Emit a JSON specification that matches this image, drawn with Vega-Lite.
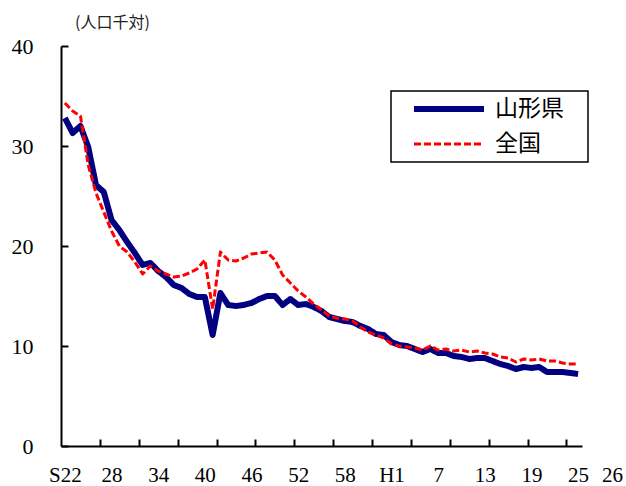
{
  "$schema": "https://vega.github.io/schema/vega-lite/v6.json",
  "width": 521,
  "height": 400,
  "autosize": {"type": "none"},
  "padding": {"left": 61, "top": 46, "right": 44, "bottom": 40},
  "background": "white",
  "config": {
    "view": {"stroke": null},
    "axis": {"grid": false},
    "legend": {"strokeWidth": 1.5}
  },
  "data": {
    "values": [
      {"year":1947,"series":"山形県","value":32.8},{"year":1948,"series":"山形県","value":31.3},{"year":1949,"series":"山形県","value":32.0},{"year":1950,"series":"山形県","value":29.9},{"year":1951,"series":"山形県","value":26.1},{"year":1952,"series":"山形県","value":25.4},{"year":1953,"series":"山形県","value":22.6},{"year":1954,"series":"山形県","value":21.6},{"year":1955,"series":"山形県","value":20.4},{"year":1956,"series":"山形県","value":19.3},
      {"year":1957,"series":"山形県","value":18.1},{"year":1958,"series":"山形県","value":18.3},{"year":1959,"series":"山形県","value":17.5},{"year":1960,"series":"山形県","value":16.9},{"year":1961,"series":"山形県","value":16.1},{"year":1962,"series":"山形県","value":15.8},{"year":1963,"series":"山形県","value":15.2},{"year":1964,"series":"山形県","value":14.9},{"year":1965,"series":"山形県","value":14.9},{"year":1966,"series":"山形県","value":11.1},
      {"year":1967,"series":"山形県","value":15.3},{"year":1968,"series":"山形県","value":14.1},{"year":1969,"series":"山形県","value":14.0},{"year":1970,"series":"山形県","value":14.1},{"year":1971,"series":"山形県","value":14.3},{"year":1972,"series":"山形県","value":14.7},{"year":1973,"series":"山形県","value":15.0},{"year":1974,"series":"山形県","value":15.0},{"year":1975,"series":"山形県","value":14.1},{"year":1976,"series":"山形県","value":14.7},
      {"year":1977,"series":"山形県","value":14.1},{"year":1978,"series":"山形県","value":14.2},{"year":1979,"series":"山形県","value":13.9},{"year":1980,"series":"山形県","value":13.5},{"year":1981,"series":"山形県","value":12.9},{"year":1982,"series":"山形県","value":12.7},{"year":1983,"series":"山形県","value":12.5},{"year":1984,"series":"山形県","value":12.4},{"year":1985,"series":"山形県","value":12.0},{"year":1986,"series":"山形県","value":11.7},
      {"year":1987,"series":"山形県","value":11.2},{"year":1988,"series":"山形県","value":11.1},{"year":1989,"series":"山形県","value":10.4},{"year":1990,"series":"山形県","value":10.1},{"year":1991,"series":"山形県","value":10.0},{"year":1992,"series":"山形県","value":9.7},{"year":1993,"series":"山形県","value":9.4},{"year":1994,"series":"山形県","value":9.7},{"year":1995,"series":"山形県","value":9.3},{"year":1996,"series":"山形県","value":9.3},
      {"year":1997,"series":"山形県","value":9.0},{"year":1998,"series":"山形県","value":8.9},{"year":1999,"series":"山形県","value":8.7},{"year":2000,"series":"山形県","value":8.8},{"year":2001,"series":"山形県","value":8.8},{"year":2002,"series":"山形県","value":8.5},{"year":2003,"series":"山形県","value":8.2},{"year":2004,"series":"山形県","value":8.0},{"year":2005,"series":"山形県","value":7.7},{"year":2006,"series":"山形県","value":7.9},
      {"year":2007,"series":"山形県","value":7.8},{"year":2008,"series":"山形県","value":7.9},{"year":2009,"series":"山形県","value":7.4},{"year":2010,"series":"山形県","value":7.4},{"year":2011,"series":"山形県","value":7.4},{"year":2012,"series":"山形県","value":7.3},{"year":2013,"series":"山形県","value":7.2},
      {"year":1947,"series":"全国","value":34.3},{"year":1948,"series":"全国","value":33.5},{"year":1949,"series":"全国","value":33.0},{"year":1950,"series":"全国","value":28.1},{"year":1951,"series":"全国","value":25.3},{"year":1952,"series":"全国","value":23.4},{"year":1953,"series":"全国","value":21.5},{"year":1954,"series":"全国","value":20.0},{"year":1955,"series":"全国","value":19.4},{"year":1956,"series":"全国","value":18.4},
      {"year":1957,"series":"全国","value":17.2},{"year":1958,"series":"全国","value":18.0},{"year":1959,"series":"全国","value":17.5},{"year":1960,"series":"全国","value":17.2},{"year":1961,"series":"全国","value":16.9},{"year":1962,"series":"全国","value":17.0},{"year":1963,"series":"全国","value":17.3},{"year":1964,"series":"全国","value":17.7},{"year":1965,"series":"全国","value":18.6},{"year":1966,"series":"全国","value":13.7},
      {"year":1967,"series":"全国","value":19.4},{"year":1968,"series":"全国","value":18.6},{"year":1969,"series":"全国","value":18.5},{"year":1970,"series":"全国","value":18.8},{"year":1971,"series":"全国","value":19.2},{"year":1972,"series":"全国","value":19.3},{"year":1973,"series":"全国","value":19.4},{"year":1974,"series":"全国","value":18.6},{"year":1975,"series":"全国","value":17.1},{"year":1976,"series":"全国","value":16.3},
      {"year":1977,"series":"全国","value":15.5},{"year":1978,"series":"全国","value":14.9},{"year":1979,"series":"全国","value":14.2},{"year":1980,"series":"全国","value":13.6},{"year":1981,"series":"全国","value":13.0},{"year":1982,"series":"全国","value":12.8},{"year":1983,"series":"全国","value":12.7},{"year":1984,"series":"全国","value":12.5},{"year":1985,"series":"全国","value":11.9},{"year":1986,"series":"全国","value":11.4},
      {"year":1987,"series":"全国","value":11.1},{"year":1988,"series":"全国","value":10.8},{"year":1989,"series":"全国","value":10.2},{"year":1990,"series":"全国","value":10.0},{"year":1991,"series":"全国","value":9.9},{"year":1992,"series":"全国","value":9.8},{"year":1993,"series":"全国","value":9.6},{"year":1994,"series":"全国","value":10.0},{"year":1995,"series":"全国","value":9.6},{"year":1996,"series":"全国","value":9.7},
      {"year":1997,"series":"全国","value":9.5},{"year":1998,"series":"全国","value":9.6},{"year":1999,"series":"全国","value":9.4},{"year":2000,"series":"全国","value":9.5},{"year":2001,"series":"全国","value":9.3},{"year":2002,"series":"全国","value":9.2},{"year":2003,"series":"全国","value":8.9},{"year":2004,"series":"全国","value":8.8},{"year":2005,"series":"全国","value":8.4},{"year":2006,"series":"全国","value":8.7},
      {"year":2007,"series":"全国","value":8.6},{"year":2008,"series":"全国","value":8.7},{"year":2009,"series":"全国","value":8.5},{"year":2010,"series":"全国","value":8.5},{"year":2011,"series":"全国","value":8.3},{"year":2012,"series":"全国","value":8.2},{"year":2013,"series":"全国","value":8.2}
    ]
  },
  "mark": {"type": "line", "strokeJoin": "round"},
  "encoding": {
    "x": {
      "field": "year",
      "type": "quantitative",
      "scale": {"domain": [1946.5, 2013.5], "nice": false, "zero": false},
      "axis": {
        "title": "26",
        "titleX": 551,
        "titleY": 18,
        "titleAlign": "center",
        "titleBaseline": "top",
        "titleAnchor": null,
        "titleFont": "Liberation Serif",
        "titleFontSize": 21,
        "titleFontWeight": "normal",
        "titleColor": "black",
        "values": [1947, 1951.5, 1953, 1956.5, 1959, 1961.5, 1965, 1966.5, 1971, 1971.5, 1976.5, 1977, 1981.5, 1983, 1986.5, 1989, 1991.5, 1995, 1996.5, 2001, 2001.5, 2006.5, 2007, 2011.5, 2013],
        "labelExpr": "datum.value % 1 != 0 ? '' : (datum.value == 1947 ? 'S22' : (datum.value == 1989 ? 'H1' : (datum.value < 1989 ? '' + (datum.value - 1925) : '' + (datum.value - 1988))))",
        "tickSize": -7,
        "tickWidth": 2,
        "tickColor": "black",
        "tickOpacity": {"condition": {"test": "datum.value % 1 != 0", "value": 1}, "value": 0},
        "domainColor": "black",
        "domainWidth": 2,
        "labelFont": "Liberation Serif",
        "labelFontSize": 21,
        "labelColor": "black",
        "labelPadding": 25,
        "labelOverlap": false,
        "labelFlush": false,
        "labelBound": false
      }
    },
    "y": {
      "field": "value",
      "type": "quantitative",
      "scale": {"domain": [0, 40], "nice": false},
      "axis": {
        "values": [0, 10, 20, 30, 40],
        "title": "(人口千対)",
        "titleAngle": 0,
        "titleAlign": "center",
        "titleBaseline": "middle",
        "titleX": 51,
        "titleY": -24,
        "titleFont": "Noto Sans CJK JP",
        "titleFontSize": 16,
        "titleFontWeight": "normal",
        "titleColor": "#222222",
        "tickSize": -7,
        "tickWidth": 2,
        "tickColor": "black",
        "domainColor": "black",
        "domainWidth": 2,
        "labelFont": "Liberation Serif",
        "labelFontSize": 22,
        "labelColor": "black",
        "labelPadding": 35
      }
    },
    "color": {
      "field": "series",
      "type": "nominal",
      "scale": {"domain": ["山形県", "全国"], "range": ["#000080", "#FF0000"]},
      "legend": {
        "orient": "none",
        "legendX": 330,
        "legendY": 45,
        "title": "⠀",
        "titleOrient": "right",
        "titleFont": "DejaVu Sans",
        "titleFontSize": 22,
        "titlePadding": 0,
        "symbolType": "stroke",
        "symbolSize": 4900,
        "clipHeight": 24,
        "rowPadding": 11,
        "padding": 6,
        "strokeColor": "black",
        "fillColor": "white",
        "labelFont": "Noto Sans CJK JP",
        "labelFontSize": 23,
        "labelColor": "black",
        "labelOffset": 8,
        "symbolOffset": 14
      }
    },
    "strokeDash": {
      "field": "series",
      "type": "nominal",
      "scale": {"domain": ["山形県", "全国"], "range": [[1, 0], [7, 3]]}
    },
    "strokeWidth": {
      "field": "series",
      "type": "nominal",
      "scale": {"domain": ["山形県", "全国"], "range": [6, 3]}
    }
  }
}
